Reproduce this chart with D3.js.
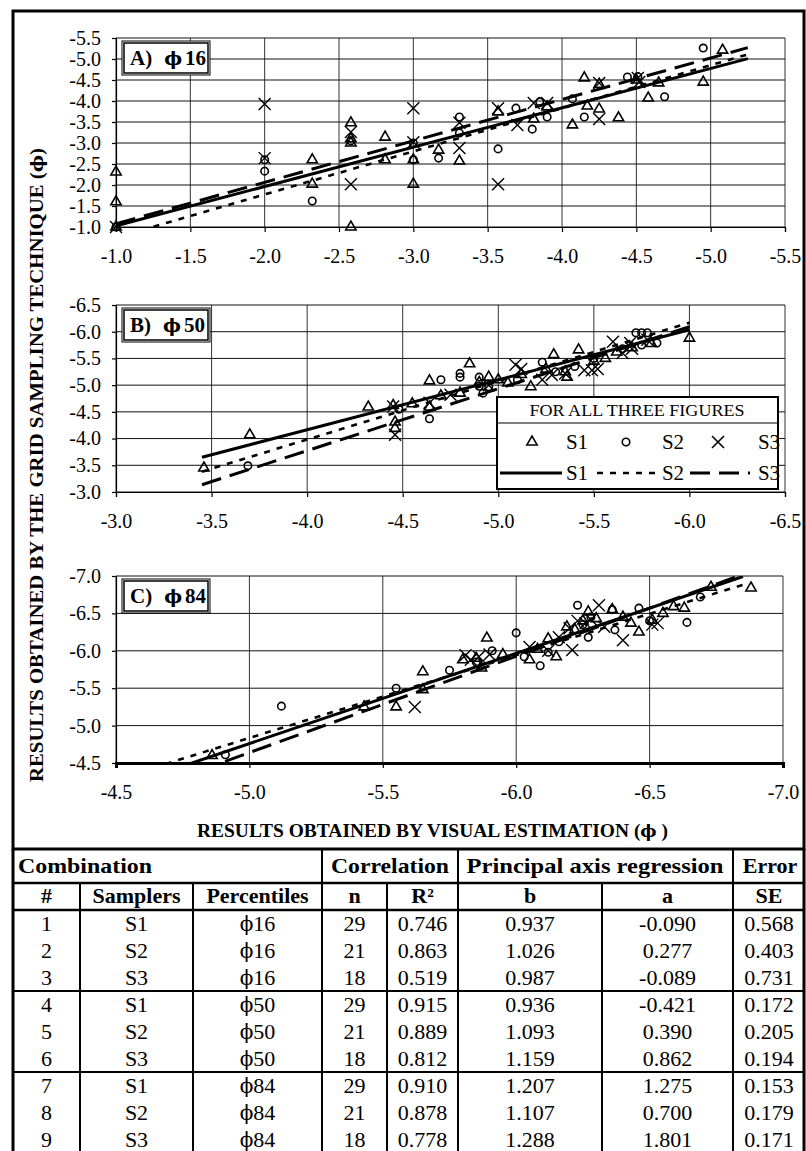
<!doctype html>
<html lang="en">
<head>
<meta charset="utf-8">
<title>Grid sampling vs visual estimation</title>
<style>
  body { margin:0; background:#fff; }
  svg { display:block; font-family:"Liberation Serif", "Times New Roman", serif; }
  .phi { font-family:"DejaVu Serif", serif; }
</style>
</head>
<body>
<svg id="chart" width="806" height="1151"></svg>

<script src="https://cdn.jsdelivr.net/npm/d3@7"></script>
<script>
// ---- tick labels
var ticksA = [-1.0, -1.5, -2.0, -2.5, -3.0, -3.5, -4.0, -4.5, -5.0, -5.5];
var ticksB = [-3.0, -3.5, -4.0, -4.5, -5.0, -5.5, -6.0, -6.5];
var ticksC = [-4.5, -5.0, -5.5, -6.0, -6.5, -7.0];

// ---- points [visual, grid]  (S1 triangles, S2 circles, S3 crosses)
var s1A = [[-1.0,-1.0],[-1.0,-1.6],[-1.0,-2.31],[-2.32,-2.6],[-2.32,-2.02],[-2.58,-3.48],[-2.58,-3.0],
  [-2.58,-1.0],[-2.81,-3.14],[-2.81,-2.6],[-3.0,-2.6],[-3.0,-2.02],[-3.17,-2.83],[-3.31,-2.57],
  [-3.57,-3.74],[-3.81,-3.57],[-3.9,-3.86],[-4.07,-3.43],[-4.15,-4.55],[-4.17,-3.88],[-4.25,-3.81],
  [-4.38,-3.6],[-4.58,-4.07],[-4.65,-4.43],[-5.08,-5.21],[-4.95,-4.45],[-2.58,-3.1],[-4.25,-4.4],[-4.5,-4.5]];
var s2A = [[-1.0,-1.0],[-2.0,-2.33],[-2.0,-2.6],[-2.32,-1.62],[-3.0,-2.6],[-3.17,-2.64],[-3.31,-3.62],
  [-3.31,-3.24],[-3.57,-2.86],[-3.69,-3.83],[-3.8,-3.33],[-3.85,-3.98],[-3.9,-3.62],[-4.07,-4.05],
  [-4.15,-3.62],[-4.44,-4.57],[-4.51,-4.58],[-4.69,-4.1],[-4.95,-5.26],[-2.58,-3.05],[-3.0,-3.0]];
var s3A = [[-1.0,-1.0],[-2.0,-3.93],[-2.0,-2.64],[-2.58,-3.26],[-2.58,-2.02],[-3.0,-3.83],[-3.0,-3.02],
  [-3.31,-3.48],[-3.31,-2.88],[-3.57,-3.83],[-3.57,-2.02],[-3.7,-3.43],[-3.81,-3.95],[-3.9,-3.95],
  [-4.25,-4.43],[-4.25,-3.57],[-4.51,-4.55],[-4.52,-4.45]];

var s1B = [[-3.46,-3.45],[-3.70,-4.07],[-4.32,-4.59],[-4.45,-4.62],[-4.46,-4.31],[-4.46,-4.19],[-4.64,-4.59],
  [-4.64,-5.08],[-4.70,-4.80],[-4.85,-5.40],[-4.95,-5.15],[-5.05,-5.04],[-5.17,-4.97],[-5.29,-5.57],
  [-5.36,-5.15],[-5.42,-5.66],[-5.56,-5.50],[-6.00,-5.88],[-4.80,-4.85],[-4.90,-5.05],[-5.00,-5.10],
  [-5.12,-5.20],[-5.25,-5.30],[-5.35,-5.25],[-5.50,-5.45],[-5.62,-5.62],[-5.70,-5.70],[-5.80,-5.78],[-4.55,-4.65]];
var s2B = [[-3.69,-3.49],[-4.64,-4.37],[-4.70,-5.10],[-4.80,-5.15],[-4.80,-5.22],[-4.90,-5.15],[-4.90,-4.98],
  [-4.95,-4.97],[-5.23,-5.43],[-5.30,-5.25],[-5.72,-5.98],[-5.75,-5.98],[-5.78,-5.98],[-5.75,-5.75],
  [-5.83,-5.79],[-4.92,-4.85],[-4.48,-4.55],[-5.40,-5.35],[-5.65,-5.68],[-5.10,-5.10],[-5.50,-5.50]];
var s3B = [[-4.46,-4.07],[-4.45,-4.60],[-4.64,-4.67],[-4.75,-4.82],[-5.09,-5.38],[-5.12,-5.30],[-5.23,-5.10],
  [-5.28,-5.19],[-5.45,-5.28],[-5.49,-5.28],[-5.52,-5.30],[-5.60,-5.81],[-5.69,-5.79],[-5.78,-5.85],
  [-5.70,-5.68],[-5.35,-5.22],[-4.95,-5.00],[-5.65,-5.60]];

var s1C = [[-4.86,-4.60],[-5.43,-5.25],[-5.55,-5.25],[-5.65,-5.72],[-5.65,-5.48],[-5.85,-5.90],[-5.87,-5.77],
  [-5.89,-6.17],[-6.05,-5.88],[-6.12,-6.16],[-6.15,-5.92],[-6.19,-6.32],[-6.27,-6.52],[-6.25,-6.40],
  [-6.30,-6.43],[-6.36,-6.55],[-6.43,-6.37],[-6.46,-6.25],[-6.51,-6.41],[-6.59,-6.59],[-6.63,-6.57],
  [-6.73,-6.85],[-6.88,-6.84],[-5.80,-5.88],[-6.08,-6.02],[-6.22,-6.28],[-6.40,-6.45],[-6.55,-6.50],[-5.95,-5.95]];
var s2C = [[-4.91,-4.61],[-5.12,-5.26],[-5.55,-5.50],[-5.75,-5.74],[-5.91,-6.00],[-6.00,-6.24],[-6.03,-5.92],
  [-6.09,-5.80],[-6.12,-5.98],[-6.16,-6.12],[-6.23,-6.61],[-6.27,-6.18],[-6.36,-6.55],[-6.37,-6.28],
  [-6.46,-6.57],[-6.64,-6.38],[-6.69,-6.72],[-6.25,-6.35],[-5.85,-5.85],[-6.50,-6.40],[-6.28,-6.45]];
var s3C = [[-5.62,-5.25],[-5.81,-5.94],[-5.83,-5.88],[-5.86,-5.92],[-6.12,-6.00],[-6.16,-6.18],[-6.21,-6.01],
  [-6.23,-6.40],[-6.26,-6.37],[-6.31,-6.61],[-6.33,-6.32],[-6.40,-6.14],[-6.53,-6.37],[-6.28,-6.42],
  [-6.05,-6.05],[-5.90,-5.95],[-6.51,-6.35],[-6.20,-6.30]];

// x extent of the fitted lines in each panel
var fitA = [-1.0, -5.25];
var fitB = [-3.45, -6.0];
var fitC = [-4.5, -6.85];

// ---- table
var tableNum = ["1","2","3","4","5","6","7","8","9"];
var tableSamplers = ["S1","S2","S3","S1","S2","S3","S1","S2","S3"];
var tablePercentiles = ["16","16","16","50","50","50","84","84","84"];
var tableN = [29, 21, 18, 29, 21, 18, 29, 21, 18];
var tableR2 = [0.746, 0.863, 0.519, 0.915, 0.889, 0.812, 0.910, 0.878, 0.778];
var tableB = [0.937, 1.026, 0.987, 0.936, 1.093, 1.159, 1.207, 1.107, 1.288];
var tableA = [-0.090, 0.277, -0.089, -0.421, 0.390, 0.862, 1.275, 0.700, 1.801];
var tableSE = [0.568, 0.403, 0.731, 0.172, 0.205, 0.194, 0.153, 0.179, 0.171];

var PHI = "\u03D5";
var fmt = function(d) { return d.toFixed(1); };
var svg = d3.select("#chart");

var panels = [
  {id:"A", pct:"16", ticks:ticksA, fit:fitA, pts:[s1A, s2A, s3A], row0:0, l:116, r:785, t:38, b:227, thick:false},
  {id:"B", pct:"50", ticks:ticksB, fit:fitB, pts:[s1B, s2B, s3B], row0:3, l:116, r:785, t:305, b:492, thick:false},
  {id:"C", pct:"84", ticks:ticksC, fit:fitC, pts:[s1C, s2C, s3C], row0:6, l:116, r:783, t:576, b:763, thick:true}
];

var dashes = [null, "6,7", "20,9"];
var lineW = [3, 2.6, 3];

function xPath(s) {
  return "M" + (-s) + "," + (-s) + "L" + s + "," + s + "M" + (-s) + "," + s + "L" + s + "," + (-s);
}
var triPath = d3.symbol().type(d3.symbolTriangle).size(46)();
var circPath = d3.symbol().type(d3.symbolCircle).size(44)();
var markPaths = [triPath, circPath, xPath(6)];

// text with a phi glyph drawn from DejaVu (stroked form)
function phiText(sel, pre, num, phiSize, gap) {
  if (pre) sel.append("tspan").text(pre);
  sel.append("tspan").attr("class", "phi").attr("font-size", phiSize).attr("dx", pre ? 12 : 0).text(PHI);
  sel.append("tspan").attr("dx", gap || 0).text(num);
}

// outer frame
svg.append("rect").attr("x", 13).attr("y", 11).attr("width", 791).attr("height", 838)
  .attr("fill", "none").attr("stroke", "#000").attr("stroke-width", 3);

panels.forEach(function(p) {
  var dom = [p.ticks[0], p.ticks[p.ticks.length - 1]];
  var x = d3.scaleLinear().domain(dom).range([p.l, p.r]);
  var y = d3.scaleLinear().domain(dom).range([p.b, p.t]);
  var g = svg.append("g");

  // grid
  g.selectAll(".vg").data(p.ticks).enter().append("line")
    .attr("x1", function(d) { return x(d); }).attr("x2", function(d) { return x(d); })
    .attr("y1", p.t).attr("y2", p.b).attr("stroke", "#333").attr("stroke-width", 1);
  g.selectAll(".hg").data(p.ticks).enter().append("line")
    .attr("y1", function(d) { return y(d); }).attr("y2", function(d) { return y(d); })
    .attr("x1", p.l).attr("x2", p.r).attr("stroke", "#111").attr("stroke-width", 1);

  // axes
  var xa = g.append("g").attr("transform", "translate(0," + p.b + ")")
    .call(d3.axisBottom(x).tickValues(p.ticks).tickSize(5).tickPadding(17).tickFormat(fmt));
  var ya = g.append("g").attr("transform", "translate(" + p.l + ",0)")
    .call(d3.axisLeft(y).tickValues(p.ticks).tickSize(4).tickPadding(11).tickFormat(fmt));
  [xa, ya].forEach(function(a) {
    a.select(".domain").attr("stroke-width", 1.2);
    a.selectAll("text").attr("font-family", "Liberation Serif").attr("font-size", 20).attr("fill", "#000");
    a.selectAll(".tick line").attr("stroke-width", 1.2);
  });
  if (p.thick) xa.select(".domain").attr("stroke-width", 3);

  // fitted lines
  var clipId = "clip" + p.id;
  svg.append("clipPath").attr("id", clipId).append("rect")
    .attr("x", p.l).attr("y", p.t).attr("width", p.r - p.l).attr("height", p.b - p.t);
  var line = d3.line().x(function(d) { return x(d[0]); }).y(function(d) { return y(d[1]); });
  [0, 1, 2].forEach(function(k) {
    var bb = tableB[p.row0 + k], aa = tableA[p.row0 + k];
    var seg = p.fit.map(function(v) { return [v, aa + bb * v]; });
    g.append("path").attr("d", line(seg)).attr("clip-path", "url(#" + clipId + ")")
      .attr("fill", "none").attr("stroke", "#000").attr("stroke-width", lineW[k])
      .attr("stroke-dasharray", dashes[k]);
  });

  // markers
  [0, 1, 2].forEach(function(k) {
    g.selectAll(".m" + k).data(p.pts[k]).enter().append("path")
      .attr("d", markPaths[k])
      .attr("transform", function(d) { return "translate(" + x(d[0]) + "," + y(d[1]) + ")"; })
      .attr("fill", "none").attr("stroke", "#000").attr("stroke-width", k == 2 ? 1.4 : 1.6);
  });

  // panel label
  var lb = g.append("g").attr("transform", "translate(" + (p.l + 6) + "," + (p.t + 3) + ")");
  lb.append("rect").attr("width", 88).attr("height", 34).attr("fill", "#fff")
    .attr("stroke", "#000").attr("stroke-width", 1);
  lb.append("rect").attr("x", 2).attr("y", 2).attr("width", 84).attr("height", 30).attr("fill", "none")
    .attr("stroke", "#000").attr("stroke-width", 1.5);
  var lt = lb.append("text").attr("x", 8).attr("y", 24).attr("font-weight", "bold").attr("font-size", 21);
  phiText(lt, p.id + ")", p.pct, 19, 3);
});

// legend (inside panel B)
var lg = svg.append("g").attr("transform", "translate(497,397)");
lg.append("rect").attr("width", 281).attr("height", 92).attr("fill", "#fff")
  .attr("stroke", "#000").attr("stroke-width", 2);
lg.append("line").attr("x1", 0).attr("x2", 281).attr("y1", 26).attr("y2", 26)
  .attr("stroke", "#000").attr("stroke-width", 1.2);
lg.append("text").attr("x", 140).attr("y", 19).attr("text-anchor", "middle").attr("font-size", 17)
  .attr("textLength", 215).attr("lengthAdjust", "spacingAndGlyphs").text("FOR ALL THREE FIGURES");
var names = ["S1", "S2", "S3"];
var markX = [35, 129, 221], nameX = [80, 176, 272], lineX = [[3, 65], [100, 161], [193, 253]];
names.forEach(function(n, k) {
  lg.append("path").attr("d", markPaths[k]).attr("transform", "translate(" + markX[k] + ",45)")
    .attr("fill", "none").attr("stroke", "#000").attr("stroke-width", 1.6);
  lg.append("text").attr("x", nameX[k]).attr("y", 52).attr("text-anchor", "middle").attr("font-size", 21).text(n);
  lg.append("line").attr("x1", lineX[k][0]).attr("x2", lineX[k][1]).attr("y1", 76).attr("y2", 76)
    .attr("stroke", "#000").attr("stroke-width", lineW[k]).attr("stroke-dasharray", dashes[k]);
  lg.append("text").attr("x", nameX[k]).attr("y", 83).attr("text-anchor", "middle").attr("font-size", 21).text(n);
});

// axis titles
var xt = svg.append("text").attr("x", 197).attr("y", 837).attr("font-weight", "bold").attr("font-size", 18)
  .attr("textLength", 471).attr("lengthAdjust", "spacingAndGlyphs");
xt.append("tspan").text("RESULTS OBTAINED BY VISUAL ESTIMATION (");
xt.append("tspan").attr("class", "phi").attr("font-size", 16).text(PHI);
xt.append("tspan").text(" )");
var yt = svg.append("text").attr("transform", "translate(43,782) rotate(-90)").attr("font-weight", "bold").attr("font-size", 18)
  .attr("textLength", 634).attr("lengthAdjust", "spacingAndGlyphs");
yt.append("tspan").text("RESULTS OBTAINED BY THE GRID SAMPLING TECHNIQUE (");
yt.append("tspan").attr("class", "phi").attr("font-size", 16).text(PHI);
yt.append("tspan").text(")");

// ---- table
var colX = [13, 80, 193, 322, 387, 458, 602, 733, 805];
var tTop = 849, h1 = 883, h2 = 910, rowH = 27;
var tb = svg.append("g");
function hline(yv, w) {
  tb.append("line").attr("x1", 13).attr("x2", 805).attr("y1", yv).attr("y2", yv)
    .attr("stroke", "#000").attr("stroke-width", w);
}
function vline(xv, y1, w) {
  tb.append("line").attr("x1", xv).attr("x2", xv).attr("y1", y1).attr("y2", 1151)
    .attr("stroke", "#000").attr("stroke-width", w);
}
hline(h1, 2.5); hline(h2, 2.5);
hline(h2 + 3 * rowH, 2); hline(h2 + 6 * rowH, 2);
[1, 2, 4, 6].forEach(function(i) { vline(colX[i], h1, 2); });
[3, 5, 7].forEach(function(i) { vline(colX[i], tTop, 2); });
vline(13, tTop, 3); vline(804, tTop, 3);

function cell(txt, xc, yc, bold, anchor) {
  return tb.append("text").attr("x", xc).attr("y", yc + 7).attr("text-anchor", anchor || "middle")
    .attr("font-size", 22).attr("font-weight", bold ? "bold" : "normal").text(txt);
}
cell("Combination", 18, 866, true, "start").attr("textLength", 134).attr("lengthAdjust", "spacingAndGlyphs");
cell("Correlation", 390, 866, true).attr("textLength", 118).attr("lengthAdjust", "spacingAndGlyphs");
cell("Principal axis regression", 595, 866, true).attr("textLength", 257).attr("lengthAdjust", "spacingAndGlyphs");
cell("Error", 770, 866, true);
var heads = ["#", "Samplers", "Percentiles", "n", "R\u00B2", "b", "a", "SE"];
heads.forEach(function(hd, i) { cell(hd, (colX[i] + colX[i + 1]) / 2, 896, true); });

var f3 = d3.format(".3f");
tableNum.forEach(function(nm, i) {
  var yc = h2 + rowH / 2 + i * rowH;
  var vals = [nm, tableSamplers[i], null, String(tableN[i]),
    f3(tableR2[i]), f3(tableB[i]), f3(tableA[i]).replace("\u2212", "-"), f3(tableSE[i])];
  vals.forEach(function(v, c) {
    var xc = (colX[c] + colX[c + 1]) / 2;
    if (v === null) phiText(cell("", xc, yc, false), null, tablePercentiles[i], 20);
    else cell(v, xc, yc, false);
  });
});
</script>
</body>
</html>
